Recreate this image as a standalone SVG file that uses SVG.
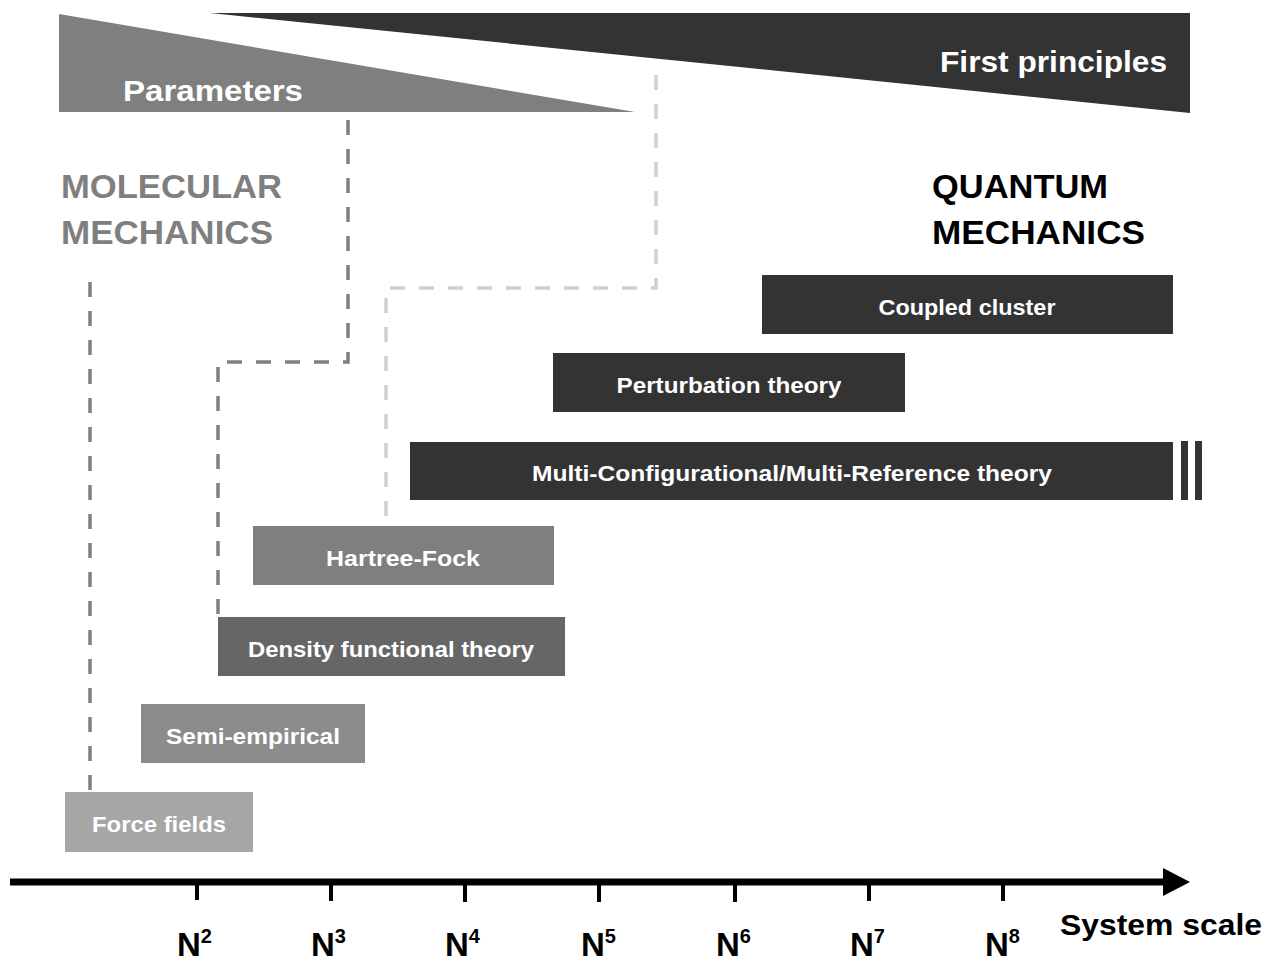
<svg xmlns="http://www.w3.org/2000/svg" width="1266" height="964" viewBox="0 0 1266 964">
<style>
text{font-family:"Liberation Sans",Arial,sans-serif;font-weight:bold}
.lbl{fill:#fff;font-size:22px;text-anchor:middle}
.dash{fill:none;stroke-width:3.5;stroke-dasharray:15 14}
.big{font-size:34px}
.nl{font-size:33px;fill:#000}
.sup{font-size:20px}
</style>
<rect width="1266" height="964" fill="#fff"/>
<g id="first-principles">
<polygon points="210,13 1190,13 1190,113" fill="#333"/>
<text x="1167" y="72" font-size="30" fill="#fff" text-anchor="end" textLength="227" lengthAdjust="spacingAndGlyphs">First principles</text>
</g>
<g id="parameters">
<polygon points="59,14 59,112 635,112" fill="#7f7f7f"/>
<text x="123" y="101" font-size="30" fill="#fff" textLength="180" lengthAdjust="spacingAndGlyphs">Parameters</text>
</g>
<g id="molecular-mechanics" fill="#7f7f7f">
<text x="61" y="198" class="big" textLength="221" lengthAdjust="spacingAndGlyphs">MOLECULAR</text>
<text x="61" y="244" class="big" textLength="212" lengthAdjust="spacingAndGlyphs">MECHANICS</text>
</g>
<g id="quantum-mechanics" fill="#000">
<text x="932" y="198" class="big" textLength="176" lengthAdjust="spacingAndGlyphs">QUANTUM</text>
<text x="932" y="244" class="big" textLength="213" lengthAdjust="spacingAndGlyphs">MECHANICS</text>
</g>
<g id="connectors">
<path class="dash" stroke="#7f7f7f" d="M90,282 V790"/>
<path class="dash" stroke="#7f7f7f" d="M348,120 V362 H218 V615"/>
<path class="dash" stroke="#d0d0d0" d="M656,75 V288 H386 V525"/>
</g>
<g id="coupled-cluster">
<rect x="762" y="275" width="411" height="59" fill="#333"/>
<text class="lbl" x="967" y="315" textLength="177" lengthAdjust="spacingAndGlyphs">Coupled cluster</text>
</g>
<g id="perturbation-theory">
<rect x="553" y="353" width="352" height="59" fill="#333"/>
<text class="lbl" x="729" y="393" textLength="225" lengthAdjust="spacingAndGlyphs">Perturbation theory</text>
</g>
<g id="multi-reference">
<rect x="410" y="442" width="763" height="58" fill="#333"/>
<rect x="1181" y="441" width="7" height="59" fill="#333"/>
<rect x="1195" y="441" width="7" height="59" fill="#333"/>
<text class="lbl" x="792" y="481" textLength="520" lengthAdjust="spacingAndGlyphs">Multi-Configurational/Multi-Reference  theory</text>
</g>
<g id="hartree-fock">
<rect x="253" y="526" width="301" height="59" fill="#7f7f7f"/>
<text class="lbl" x="403" y="566" textLength="154" lengthAdjust="spacingAndGlyphs">Hartree-Fock</text>
</g>
<g id="dft">
<rect x="218" y="617" width="347" height="59" fill="#666"/>
<text class="lbl" x="391" y="657" textLength="286" lengthAdjust="spacingAndGlyphs">Density functional theory</text>
</g>
<g id="semi-empirical">
<rect x="141" y="704" width="224" height="59" fill="#8c8c8c"/>
<text class="lbl" x="253" y="744" textLength="174" lengthAdjust="spacingAndGlyphs">Semi-empirical</text>
</g>
<g id="force-fields">
<rect x="65" y="792" width="188" height="60" fill="#a6a6a6"/>
<text class="lbl" x="159" y="832" textLength="134" lengthAdjust="spacingAndGlyphs">Force fields</text>
</g>
<g id="axis">
<line x1="10" y1="882" x2="1168" y2="882" stroke="#000" stroke-width="7"/>
<polygon points="1163,868 1190,882 1163,896" fill="#000"/>
<g stroke="#000" stroke-width="4">
<line x1="197" y1="882" x2="197" y2="900"/>
<line x1="331" y1="882" x2="331" y2="901"/>
<line x1="465" y1="882" x2="465" y2="902"/>
<line x1="599" y1="882" x2="599" y2="902"/>
<line x1="735" y1="882" x2="735" y2="902"/>
<line x1="869" y1="882" x2="869" y2="901"/>
<line x1="1003" y1="882" x2="1003" y2="901"/>
</g>
<text class="nl" x="177" y="956">N<tspan class="sup" dy="-13">2</tspan></text>
<text class="nl" x="311" y="956">N<tspan class="sup" dy="-13">3</tspan></text>
<text class="nl" x="445" y="956">N<tspan class="sup" dy="-13">4</tspan></text>
<text class="nl" x="581" y="956">N<tspan class="sup" dy="-13">5</tspan></text>
<text class="nl" x="716" y="956">N<tspan class="sup" dy="-13">6</tspan></text>
<text class="nl" x="850" y="956">N<tspan class="sup" dy="-13">7</tspan></text>
<text class="nl" x="985" y="956">N<tspan class="sup" dy="-13">8</tspan></text>
<text x="1060" y="935" font-size="30" fill="#000" textLength="202" lengthAdjust="spacingAndGlyphs">System scale</text>
</g>
</svg>
